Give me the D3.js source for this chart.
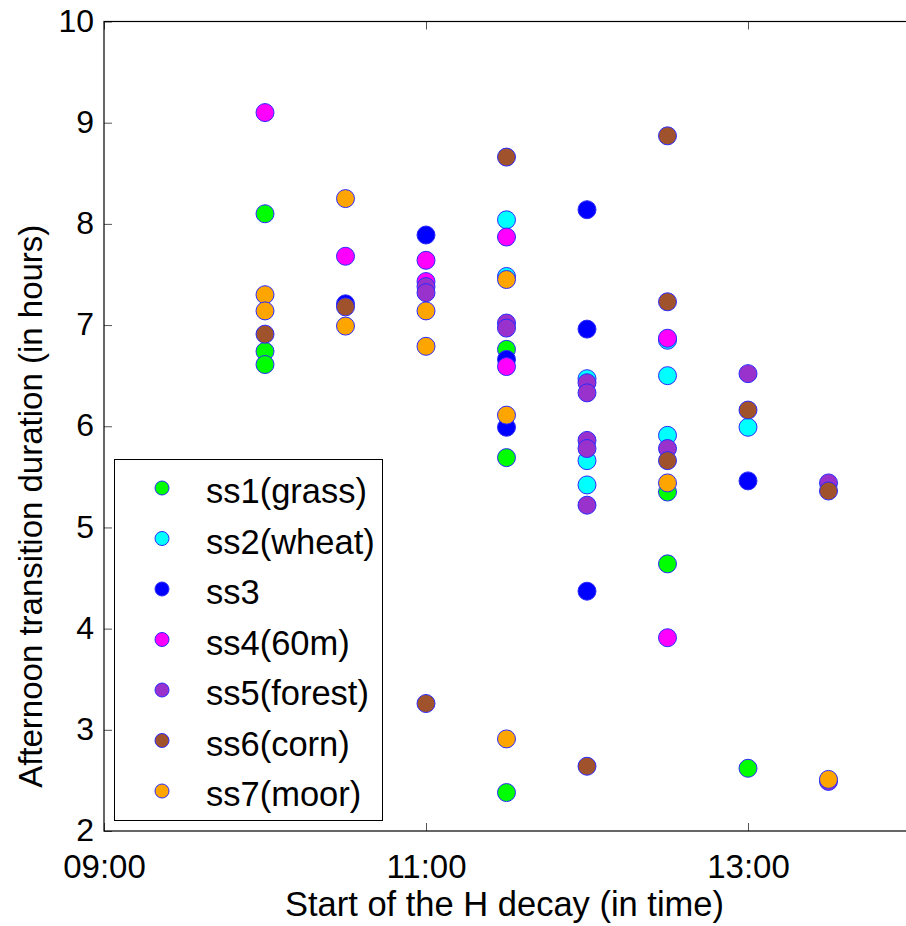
<!DOCTYPE html>
<html>
<head>
<meta charset="utf-8">
<script src="https://cdn.jsdelivr.net/npm/d3@7"></script>
<style>
  body { margin: 0; background: #fff; }
  svg text { font-family: "Liberation Sans", Arial, Helvetica, sans-serif; fill: #000; }
</style>
</head>
<body>
<div id="chart"></div>
<script>
// series names as in the legend
var seriesNames = ["ss1(grass)", "ss2(wheat)", "ss3", "ss4(60m)", "ss5(forest)", "ss6(corn)", "ss7(moor)"];

// [start of H decay, transition duration in hours]
var ss1 = [["10:00", 8.10], ["10:00", 6.74], ["10:00", 6.61], ["11:30", 6.76], ["11:30", 5.69],
           ["11:30", 2.38], ["12:30", 5.35], ["12:30", 4.64], ["13:00", 2.62]];
var ss2 = [["11:30", 8.04], ["11:30", 7.48], ["12:00", 6.47], ["12:00", 5.66], ["12:00", 5.42],
           ["12:30", 6.85], ["12:30", 6.50], ["12:30", 5.91], ["13:00", 5.99]];
var ss3 = [["10:30", 7.21], ["11:00", 7.89], ["11:30", 6.66], ["11:30", 5.99], ["12:00", 8.14],
           ["12:00", 6.96], ["12:00", 4.37], ["13:00", 5.46]];
var ss4 = [["10:00", 9.10], ["10:30", 7.68], ["11:00", 7.64], ["11:00", 7.43], ["11:30", 7.87],
           ["11:30", 6.59], ["12:30", 6.87], ["12:30", 3.91]];
var ss5 = [["11:00", 7.38], ["11:00", 7.32], ["11:30", 7.02], ["11:30", 6.97], ["12:00", 6.43],
           ["12:00", 6.33], ["12:00", 5.86], ["12:00", 5.78], ["12:00", 5.22], ["12:30", 5.78],
           ["13:00", 6.52], ["13:30", 5.44], ["13:30", 2.49]];
var ss6 = [["10:00", 6.91], ["10:30", 7.18], ["11:00", 3.26], ["11:30", 8.66], ["12:00", 2.64],
           ["12:30", 8.87], ["12:30", 7.23], ["12:30", 5.66], ["13:00", 6.16], ["13:30", 5.36]];
var ss7 = [["10:00", 7.30], ["10:00", 7.14], ["10:30", 8.25], ["10:30", 6.99], ["11:00", 7.14],
           ["11:00", 6.79], ["11:30", 7.45], ["11:30", 6.11], ["11:30", 2.91], ["12:30", 5.44],
           ["13:30", 2.51]];

var xDomain = ["09:00", "14:00"];
var xTicks = ["09:00", "11:00", "13:00"];
var yTicks = [2, 3, 4, 5, 6, 7, 8, 9, 10];

var seriesData = [ss1, ss2, ss3, ss4, ss5, ss6, ss7];
var fills = ["#00ff00", "#00ffff", "#0000ff", "#ff00ff", "#9932cc", "#a0522d", "#ffa500"];

var W = 906, H = 926;
var margin = {"top": 21.5, "right": -3, "left": 104, "bottom": 95};
var width = W - margin.left - margin.right;
var height = H - margin.top - margin.bottom;

var parseT = d3.timeParse("%H:%M");

var canvas = d3.select("#chart").append("svg")
  .attr("width", W).attr("height", H);

var g = canvas.append("g").attr("transform", "translate(" + margin.left + "," + margin.top + ")");

var xScale = d3.scaleTime().domain(xDomain.map(parseT)).range([0, width]);
var yScale = d3.scaleLinear().domain([2, 10]).range([height, 0]);

// inward ticks, matlab style
var xAxis = g.append("g").attr("transform", "translate(0," + height + ")")
  .call(d3.axisBottom(xScale).tickValues(xTicks.map(parseT))
    .tickFormat(d3.timeFormat("%H:%M")).tickSizeInner(-8).tickSizeOuter(0).tickPadding(24));
var xTop = g.append("g")
  .call(d3.axisTop(xScale).tickValues(xTicks.map(parseT)).tickFormat("").tickSizeInner(-8).tickSizeOuter(0));
var yAxis = g.append("g")
  .call(d3.axisLeft(yScale).tickValues(yTicks).tickSizeInner(-8).tickSizeOuter(0).tickPadding(10));

g.selectAll(".domain").remove();
g.selectAll(".tick line").attr("stroke", "#555");
g.selectAll(".tick text").style("font-size", "32px");
xAxis.selectAll(".tick text").style("font-size", "33px");
yAxis.selectAll(".tick text").attr("dy", "0.3em");

// box
g.append("rect").attr("x", 0).attr("y", 0).attr("width", width).attr("height", height)
  .attr("fill", "none").attr("stroke", "#000").attr("stroke-width", 1.2);

// points, series in order so later ones sit on top
seriesData.forEach(function(s, i) {
  g.append("g").selectAll("circle").data(s).enter().append("circle")
    .attr("cx", function(d) { return xScale(parseT(d[0])); })
    .attr("cy", function(d) { return yScale(d[1]); })
    .attr("r", 9)
    .attr("fill", fills[i])
    .attr("stroke", "#2a2aff")
    .attr("stroke-width", 1);
});

// axis labels
canvas.append("text")
  .attr("x", margin.left + width / 2 - 2).attr("y", 916)
  .attr("text-anchor", "middle").style("font-size", "34.5px")
  .text("Start of the H decay (in time)");

canvas.append("text")
  .attr("transform", "translate(42," + (margin.top + height / 2 + 80) + ") rotate(-90)")
  .attr("text-anchor", "middle").style("font-size", "33px")
  .text("Afternoon transition duration (in hours)");

// legend
var legend = canvas.append("g");
legend.append("rect").attr("x", 114.5).attr("y", 459.5).attr("width", 268).attr("height", 361)
  .attr("fill", "#fff").attr("stroke", "#000").attr("stroke-width", 1);

var rows = legend.selectAll(".row").data(seriesNames).enter().append("g")
  .attr("class", "row")
  .attr("transform", function(d, i) { return "translate(0," + (488 + i * 50.5) + ")"; });
rows.append("circle").attr("cx", 162).attr("cy", 0).attr("r", 7)
  .attr("fill", function(d, i) { return fills[i]; })
  .attr("stroke", "#2a2aff").attr("stroke-width", 1);
rows.append("text").attr("x", 206).attr("y", 15).style("font-size", "34.5px")
  .text(function(d) { return d; });
</script>
</body>
</html>
